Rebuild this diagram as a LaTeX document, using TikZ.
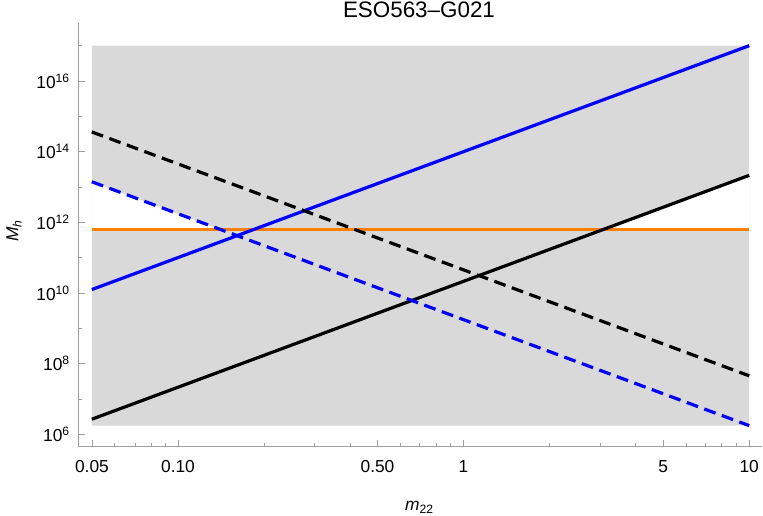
\documentclass[tikz,border=0pt]{standalone}
\usepackage{fontspec}
\setmainfont{Liberation Sans}
\usepackage{tikz}

\definecolor{laranja}{rgb}{1,0.5,0}
\definecolor{eixo}{gray}{0.62}

\begin{document}
\begin{tikzpicture}[x=214.3pt, y=26.5pt, font=\fontsize{13}{15}\selectfont,
    curva/.style={line width=2.4pt},
    tracejada/.style={line width=2.4pt, dash pattern=on 9pt off 5pt}]
    \useasboundingbox (-1.6224,3.688) rectangle (1.0483,18.293);

    % Escala log: x = log10(m22), y = log10(Mh); regiao cinza com os dois buracos brancos.
    \fill[gray!30, even odd rule] (-1.30103,6.245) rectangle (1,17)
        (-1.30103,11.8) -- (-1.30103,13.148) -- (-0.8517,11.8) -- cycle
        (0.49,11.8) -- (1,13.33) -- (1,11.8) -- cycle;

    \draw[eixo, line width=0.75pt] (-1.349,17.64) -- (-1.349,5.649) -- (1.0448,5.649);

    \foreach \yval in {6,8,...,16}{
        \draw[eixo] (-1.349,\yval) -- ++(5.25pt,0);
        \node[left, inner sep=0pt, xshift=-6pt] (ty\yval) at (-1.349,\yval) {10\textsuperscript{\yval}};
    }
    \foreach \yval in {7,9,...,17}
        \draw[eixo] (-1.349,\yval) -- ++(3pt,0);

    \foreach \xval/\xlabel in {0.05/0.05, 0.1/0.10, 0.5/0.50, 1/1, 5/5, 10/10}{
        \draw[eixo] ({log10(\xval)},5.649) -- ++(0,5.25pt);
        \node[below, inner sep=0pt, yshift=-10pt] at ({log10(\xval)},5.649) {\xlabel};
    }
    \foreach \xval in {0.06,0.07,0.08,0.09,0.2,0.3,0.4,0.6,0.7,0.8,0.9,2,3,4,6,7,8,9}
        \draw[eixo] ({log10(\xval)},5.649) -- ++(0,3pt);

    \draw[curva, laranja] (-1.30103,11.8) -- (1,11.8);
    \draw[domain=-1.30103:1, samples=2, variable=\x, curva, blue] plot ({\x}, {14+3*\x});
    \draw[domain=-1.30103:1, samples=2, variable=\x, curva, black] plot ({\x}, {10.33+3*\x});
    \draw[domain=-1.30103:1, samples=2, variable=\x, tracejada, black] plot ({\x}, {10.655-3*\x});
    \draw[domain=-1.30103:1, samples=2, variable=\x, tracejada, blue] plot ({\x}, {9.245-3*\x});

    \node[anchor=base, font=\fontsize{16.8}{18}\selectfont] (titulo) at (-0.1558,17.803) {ESO563–G021};
    \node[anchor=base] (rotx) at (-0.154,3.838) {\textit{m}\textsubscript{22}};
    \node[anchor=base, rotate=90] (roty) at (-1.558,11.754) {\textit{M}\textsubscript{\textit{h}}};

\end{tikzpicture}
\end{document}
